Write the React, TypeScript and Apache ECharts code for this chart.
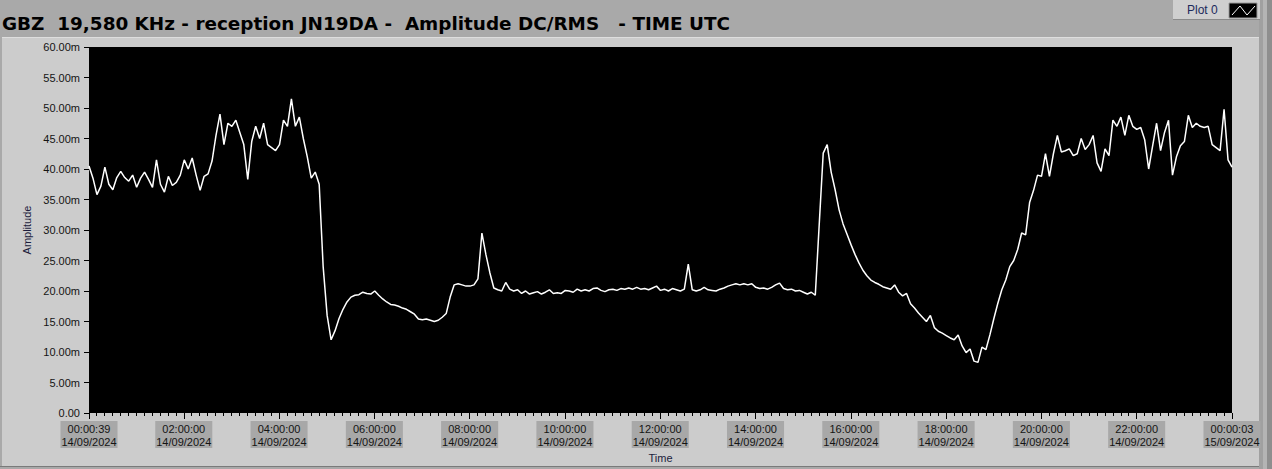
import React, { useEffect, useRef } from "react";
import * as echarts from "echarts";

const TITLE = "GBZ  19,580 KHz - reception JN19DA -  Amplitude DC/RMS   - TIME UTC";
const LEGEND_LABEL = "Plot 0";
const X_NAME = "Time";
const Y_NAME = "Amplitude";

const START_SECONDS = 39;
const END_SECONDS = 86403;
const SAMPLE_SECONDS = 299.875;

// amplitude in milli-units, one sample every SAMPLE_SECONDS
const amplitudeMilli = [
  40.5, 38.5, 35.8, 37.2, 40.3, 37.5, 36.6, 38.6, 39.6, 38.6,
  38.0, 39.0, 37.0, 38.5, 39.5, 38.3, 37.0, 41.5, 37.5, 36.2,
  38.8, 37.3, 37.8, 39.0, 41.5, 40.0, 41.8, 39.0, 36.5, 38.8,
  39.2, 41.3, 45.5, 49.0, 44.0, 47.5, 47.0, 48.0, 46.0, 44.0,
  38.3, 44.5, 47.0, 45.0, 47.5, 44.0, 43.5, 43.0, 44.0, 48.0,
  47.0, 51.5, 47.0, 48.5, 45.0, 42.0, 38.5, 39.5, 37.5, 24.0,
  16.0, 12.0, 13.5, 15.5, 17.0, 18.2, 19.0, 19.3, 19.4, 19.8,
  19.6, 19.5, 20.0, 19.3, 18.7, 18.2, 17.8, 17.7, 17.5, 17.2,
  17.0, 16.6, 16.2, 15.4, 15.3, 15.4, 15.2, 15.0, 15.2, 15.7,
  16.3, 19.0, 21.0, 21.2, 21.0, 20.8, 20.8, 21.0, 22.0, 29.5,
  26.0, 23.0, 20.5, 20.2, 20.0, 21.4, 20.3, 20.0, 20.2, 19.6,
  20.0, 19.5, 19.7, 19.9, 19.5, 19.8, 20.2, 19.6, 19.7, 19.6,
  20.1, 20.0, 19.8, 20.3, 20.0, 20.2, 20.0, 20.4, 20.5, 20.1,
  19.9, 20.2, 20.3, 20.1, 20.4, 20.3, 20.5, 20.3, 20.6, 20.3,
  20.4, 20.2, 20.5, 20.8, 20.1, 20.3, 20.0, 20.4, 20.2, 20.0,
  20.3, 24.4, 20.2, 20.0, 20.2, 20.6, 20.2, 20.1, 20.0, 20.3,
  20.5, 20.8, 21.0, 21.2, 21.0, 21.2, 21.0, 21.2, 20.6, 20.4,
  20.5, 20.3, 20.6, 21.0, 21.3, 20.4, 20.2, 20.3, 20.0, 20.1,
  19.8, 19.5, 19.8, 19.3, 31.0, 42.6, 44.0, 39.5, 36.6, 33.3,
  31.0, 29.3, 27.6, 26.0, 24.6, 23.4, 22.5, 21.8, 21.4, 21.1,
  20.7, 20.5, 20.3, 21.0, 19.8, 19.2, 19.6, 17.9, 17.2, 16.4,
  15.7, 15.0, 16.0, 14.0, 13.4, 13.1, 12.7, 12.3, 12.0, 12.8,
  11.0, 9.9, 10.5, 8.5, 8.3, 10.8, 10.4, 12.8, 15.5, 18.0,
  20.2, 21.8, 24.0, 25.0, 26.8, 29.5, 29.2, 34.5, 36.5, 39.0,
  38.8, 42.5, 38.8, 42.5, 45.5, 42.8, 43.0, 43.3, 42.2, 42.5,
  45.0, 43.2, 44.0, 45.5, 41.0, 39.6, 43.3, 42.2, 48.0, 47.0,
  48.5, 45.5, 48.8, 47.0, 46.5, 46.8, 44.8, 40.0, 43.8, 47.5,
  43.0, 46.0, 48.0, 39.0, 42.0, 43.8, 44.5, 48.8, 46.8, 47.5,
  47.0, 46.8, 47.0, 44.0, 43.5, 43.0, 49.8, 41.5, 40.3,
];

const xTickSeconds = [39, 7200, 14400, 21600, 28800, 36000, 43200, 50400, 57600, 64800, 72000, 79200, 86403];
const xTickLabels = [
  "00:00:39\n14/09/2024",
  "02:00:00\n14/09/2024",
  "04:00:00\n14/09/2024",
  "06:00:00\n14/09/2024",
  "08:00:00\n14/09/2024",
  "10:00:00\n14/09/2024",
  "12:00:00\n14/09/2024",
  "14:00:00\n14/09/2024",
  "16:00:00\n14/09/2024",
  "18:00:00\n14/09/2024",
  "20:00:00\n14/09/2024",
  "22:00:00\n14/09/2024",
  "00:00:03\n15/09/2024",
];
const MINOR_TICK_SECONDS = 600;

const Y_MIN = 0;
const Y_MAX = 60;
const Y_STEP = 5;

export default function App() {
  const ref = useRef<HTMLDivElement>(null);

  useEffect(() => {
    document.body.style.margin = "0";
    if (!ref.current) return;
    const chart = echarts.init(ref.current, null, { renderer: "svg" });

    const seriesData = amplitudeMilli.map((v, i) => [START_SECONDS + i * SAMPLE_SECONDS, v]);
    const minorTicks: number[] = [];
    for (let s = MINOR_TICK_SECONDS; s < END_SECONDS; s += MINOR_TICK_SECONDS) {
      if (s % 7200 !== 0) minorTicks.push(s);
    }

    const labelFont = "'Liberation Sans', Arial, sans-serif";

    chart.setOption({
      animation: false,
      backgroundColor: "#a9a9a9",
      graphic: [
        { type: "rect", z: -100, shape: { x: 2, y: 37, width: 1257, height: 429 }, style: { fill: "#cccccc" } },
        { type: "rect", z: -99, shape: { x: 0, y: 466, width: 1272, height: 1 }, style: { fill: "#7a7a7a" } },
        { type: "rect", z: -99, shape: { x: 2, y: 37, width: 1257, height: 1 }, style: { fill: "#dedede" } },
        { type: "rect", z: -99, shape: { x: 1259, y: 0, width: 4, height: 469 }, style: { fill: "#a0a0a0" } },
        { type: "rect", z: -99, shape: { x: 1263, y: 0, width: 4, height: 469 }, style: { fill: "#b4b4b4" } },
        { type: "rect", z: -99, shape: { x: 1267, y: 0, width: 5, height: 469 }, style: { fill: "#8e8e8e" } },
        // legend box
        { type: "rect", z: -98, shape: { x: 1173, y: 0, width: 87, height: 19 }, style: { fill: "#cfcfcf" } },
        { type: "rect", z: -97, shape: { x: 1173, y: 19, width: 87, height: 1 }, style: { fill: "#8a8a8a" } },
        {
          type: "text",
          x: 1187,
          y: 10,
          style: {
            text: LEGEND_LABEL,
            fill: "#1c2a5c",
            font: `12px ${labelFont}`,
            textVerticalAlign: "middle",
          },
        },
        { type: "rect", shape: { x: 1229, y: 3, width: 28, height: 15 }, style: { fill: "#000", stroke: "#9a9a9a", lineWidth: 1 } },
        {
          type: "polyline",
          shape: { points: [[1232, 15], [1240, 6], [1247, 15], [1255, 6]] },
          style: { stroke: "#ffffff", lineWidth: 1, fill: "none" },
        },
        {
          type: "text",
          x: 2,
          y: 23,
          style: {
            text: TITLE,
            fill: "#000",
            font: "bold 18.4px 'DejaVu Sans', Verdana, sans-serif",
            textVerticalAlign: "middle",
          },
        },
      ],
      grid: {
        left: 89,
        right: 40,
        top: 47,
        bottom: 56,
        show: true,
        backgroundColor: "#000000",
        borderWidth: 0,
        containLabel: false,
      },
      xAxis: [
        {
          type: "value",
          min: START_SECONDS,
          max: END_SECONDS,
          position: "bottom",
          axisLine: { show: false },
          splitLine: { show: false },
          axisTick: {
            show: true,
            customValues: xTickSeconds,
            length: 6,
            lineStyle: { color: "#000", width: 1 },
          },
          axisLabel: {
            show: true,
            customValues: xTickSeconds,
            formatter: (v: number) => {
              let best = 0;
              for (let k = 0; k < xTickSeconds.length; k++) {
                if (Math.abs(xTickSeconds[k] - v) < Math.abs(xTickSeconds[best] - v)) best = k;
              }
              return xTickLabels[best];
            },
            fontSize: 11,
            fontFamily: labelFont,
            color: "#141414",
            backgroundColor: "#a8a8a8",
            padding: [1, 1, 0, 1],
            lineHeight: 13,
            margin: 8,
            hideOverlap: false,
          },
          name: X_NAME,
          nameLocation: "middle",
          nameGap: 36,
          nameTextStyle: { fontSize: 11, fontFamily: labelFont, color: "#1c1c3c" },
        },
        {
          type: "value",
          min: START_SECONDS,
          max: END_SECONDS,
          position: "bottom",
          offset: 0,
          axisLine: { show: false },
          splitLine: { show: false },
          axisLabel: { show: false },
          axisTick: {
            show: true,
            customValues: minorTicks,
            length: 3,
            lineStyle: { color: "#000", width: 1 },
          },
        },
      ],
      yAxis: {
        type: "value",
        min: Y_MIN,
        max: Y_MAX,
        interval: Y_STEP,
        axisLine: { show: false },
        splitLine: { show: false },
        axisTick: { show: true, length: 5, lineStyle: { color: "#000", width: 1 } },
        axisLabel: {
          fontSize: 11,
          fontFamily: labelFont,
          color: "#141414",
          margin: 9,
          formatter: (v: number) => (v === 0 ? "0.00" : `${v.toFixed(2)}m`),
        },
        name: Y_NAME,
        nameLocation: "middle",
        nameRotate: 90,
        nameGap: 44,
        nameTextStyle: { fontSize: 11, fontFamily: labelFont, color: "#1c1c3c" },
      },
      series: [
        {
          type: "line",
          xAxisIndex: 0,
          data: seriesData,
          showSymbol: false,
          lineStyle: { color: "#ffffff", width: 1.5 },
        },
      ],
    });

    return () => chart.dispose();
  }, []);

  return <div ref={ref} style={{ position: "fixed", left: 0, top: 0, width: 1272, height: 469 }} />;
}
